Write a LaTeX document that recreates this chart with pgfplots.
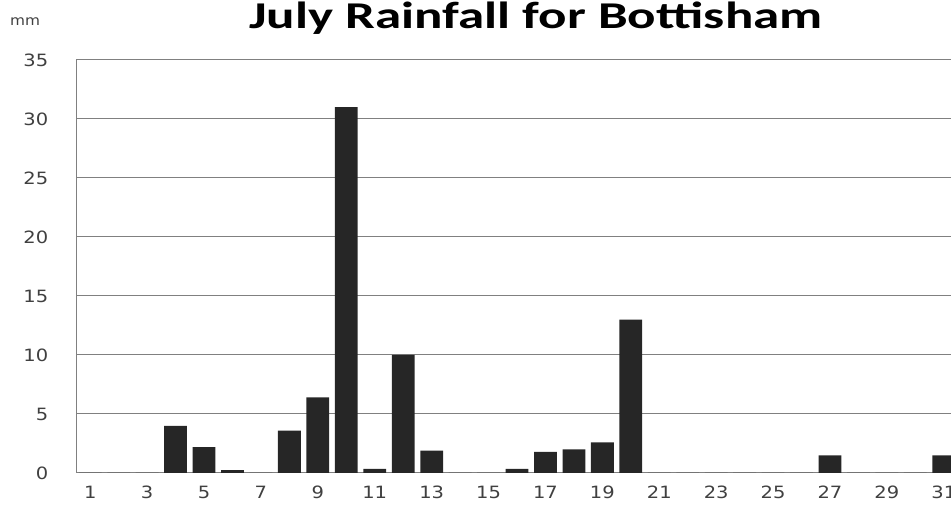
\documentclass[border=0pt]{standalone}
\usepackage{pgfplots}
\pgfplotsset{compat=1.18}
\usepackage{fontspec}
\setmainfont{DejaVu Sans}
\newfontfamily\titlefont{Carlito}
\begin{document}
\begin{tikzpicture}[x=1bp,y=1bp]
\clip (0,0) rectangle (951,510);
\begin{axis}[at={(76bp,37bp)}, anchor=south west, scale only axis,
  width=882bp, height=413bp,
  xmin=0.5, xmax=31.5, ymin=0, ymax=35,
  ytick={0,5,...,35}, xtick={1,3,...,31},
  ymajorgrids, grid style={draw=black!50, line width=1pt},
  axis lines*=left, axis line style={-, draw=black!50, line width=1pt},
  major tick length=0pt,
  /pgf/number format/assume math mode=true,
  tick label style={font=\fontsize{17}{17}\selectfont, text=black!75, inner sep=0pt, xscale=1.15},
  yticklabel style={anchor=east, xshift=-24bp},
  xticklabel style={anchor=north, yshift=-13bp},
]
\addplot[ybar, bar width=22.8bp, fill=black!85, draw=none] coordinates {
(1,0) (2,0) (3,0) (4,4.0) (5,2.2) (6,0.25) (7,0) (8,3.6) (9,6.4) (10,31.0)
(11,0.35) (12,10.0) (13,1.9) (14,0) (15,0) (16,0.35) (17,1.8) (18,2.0) (19,2.6) (20,13.0)
(21,0) (22,0) (23,0) (24,0) (25,0) (26,0) (27,1.5) (28,0) (29,0) (30,0) (31,1.5)
};
\end{axis}
\node[anchor=base, xscale=1.4] at (536,481) {\titlefont\bfseries\fontsize{38}{38}\selectfont July Rainfall for Bottisham};
\node[anchor=base west, inner sep=0pt, text=black!75, xscale=1.1] at (10,484) {\fontsize{14}{14}\selectfont mm};
\end{tikzpicture}
\end{document}
